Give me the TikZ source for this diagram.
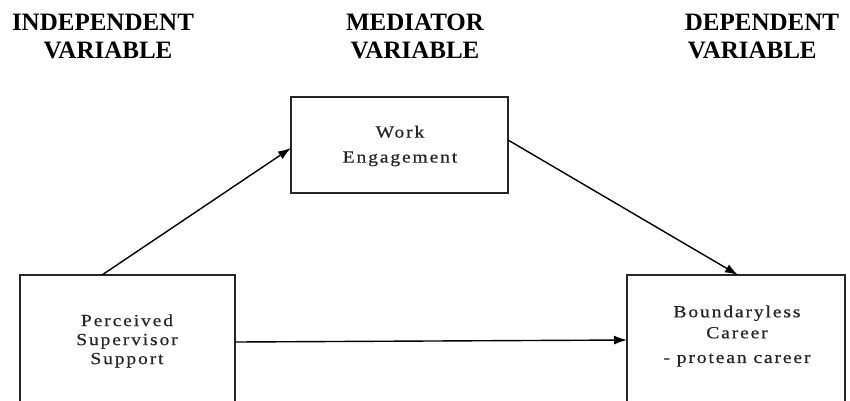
\documentclass[tikz,border=0pt]{standalone}
\usepackage{fontspec}
\setmainfont{Liberation Serif}
\newfontfamily\boxfont[LetterSpace=11,FakeStretch=1.15,FakeBold=0.6]{Liberation Serif}
\usetikzlibrary{arrows.meta}
\begin{document}
\begin{tikzpicture}[x=1pt,y=-1pt,
  head/.style={font=\fontsize{25}{30}\selectfont\bfseries, align=center, inner sep=0pt},
  varbox/.style={draw=black!85, line width=2pt, fill=white},
  boxtext/.style={font=\boxfont\fontsize{17}{20}\selectfont, align=center, inner sep=0pt, text=black!85},
  link/.style={line width=1.4pt, -{Latex[length=13pt,width=9pt]}}]
\useasboundingbox (0,0) rectangle (850,400);
\clip (0,0) rectangle (850,400);
\fill[white] (0,0) rectangle (850,400);
% headers
\node[head] (h1) at (103,36) {INDEPENDENT\\[-2pt]\hspace*{10pt}VARIABLE};
\node[head] (h2) at (415,36) {MEDIATOR\\[-2pt]VARIABLE};
\node[head, align=left] (h3) at (762,36) {DEPENDENT\\[-2pt]\hspace*{3pt}VARIABLE};
% boxes
\draw[varbox] (291,97) rectangle (508,193);
\draw[varbox] (20,275) rectangle (235,430);
\draw[varbox] (627,275) rectangle (845,430);
\node[boxtext, font=\boxfont\fontsize{17}{25}\selectfont] (we) at (400,146) {Work\\Engagement};
\node[boxtext, font=\boxfont\fontsize{17}{19}\selectfont] (pss) at (127,341) {Perceived\\Supervisor\\Support};
\node[boxtext, font=\boxfont\fontsize{17}{21}\selectfont] (bc) at (737,322) {Boundaryless\\Career};
\node[boxtext] (pc) at (737,360) {- protean career};
% anchor coordinates
\coordinate (ivTop) at (102,275);
\coordinate (medL) at (291,148);
\coordinate (medR) at (508,140);
\coordinate (dvTop) at (738,275);
\coordinate (ivR) at (235,342);
\coordinate (dvL) at (627,340);
\draw[link] (ivTop) -- (medL);
\draw[link] (medR) -- (dvTop);
\draw[link] (ivR) -- (dvL);
\end{tikzpicture}
\end{document}
